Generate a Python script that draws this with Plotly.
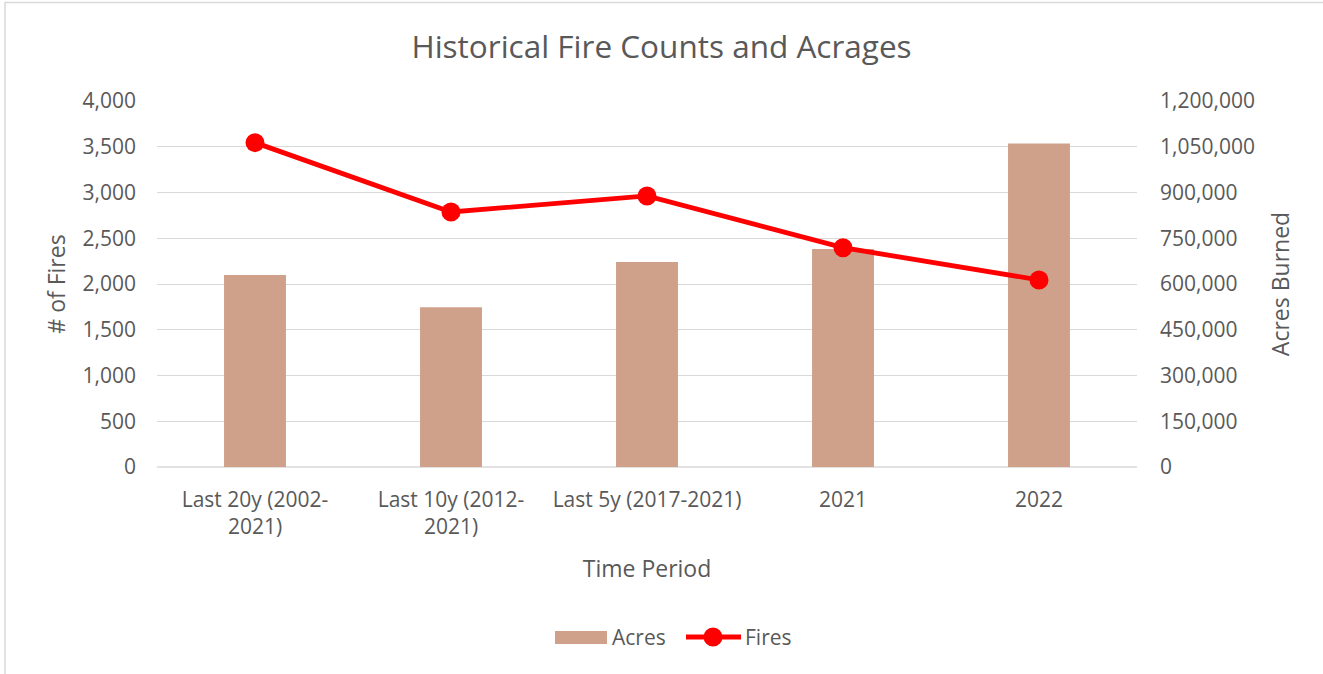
import plotly.graph_objects as go

categories = ["Last 20y (2002-<br>2021)", "Last 10y (2012-<br>2021)", "Last 5y (2017-2021)", "2021", "2022"]
acres = [629500, 523600, 672000, 714700, 1060500]
fires = [3545, 2787, 2962, 2397, 2044]
fire_ticks = [0, 500, 1000, 1500, 2000, 2500, 3000, 3500, 4000]
acre_ticks = [0, 150000, 300000, 450000, 600000, 750000, 900000, 1050000, 1200000]

FONT = "Open Sans"
GRAY = "#595959"
BAR = "#CFA18A"
RED = "#FF0000"
W, H = 1323, 674
L, R, T, B = 157, 1137, 101, 467

fig = go.Figure()
fig.add_trace(go.Bar(
    x=categories, y=acres, name="Acres", yaxis="y",
    marker=dict(color=BAR, line=dict(width=0)),
))
fig.add_trace(go.Scatter(
    x=categories, y=fires, name="Fires", yaxis="y2", mode="lines+markers",
    line=dict(color=RED, width=4.8),
    marker=dict(color=RED, size=19),
))

pw, ph = R - L, B - T
def px(x):
    return (x - L) / pw
def py(y):
    return (B - y) / ph

shapes = [
    dict(type="line", xref="paper", yref="paper", x0=0, x1=1, y0=0, y1=0,
         line=dict(color="#D9D9D9", width=1.3), layer="below"),
    dict(type="rect", xref="paper", yref="paper",
         x0=px(5), x1=px(1335), y0=py(690), y1=py(2.5),
         line=dict(color="#D9D9D9", width=1.5), layer="below"),
    # custom legend
    dict(type="rect", xref="paper", yref="paper",
         x0=px(555), x1=px(607), y0=py(644), y1=py(631),
         fillcolor=BAR, line=dict(width=0)),
    dict(type="line", xref="paper", yref="paper",
         x0=px(686), x1=px(741), y0=py(637), y1=py(637),
         line=dict(color=RED, width=4.8)),
    dict(type="circle", xref="paper", yref="paper",
         x0=px(703.5), x1=px(722.5), y0=py(646.5), y1=py(627.5),
         fillcolor=RED, line=dict(width=0)),
]
annotations = [
    dict(text="Acres", xref="paper", yref="paper", x=px(610), y=py(637),
         xanchor="left", yanchor="middle", showarrow=False,
         font=dict(size=21, color=GRAY, family=FONT)),
    dict(text="Fires", xref="paper", yref="paper", x=px(743), y=py(637),
         xanchor="left", yanchor="middle", showarrow=False,
         font=dict(size=21, color=GRAY, family=FONT)),
]

fig.update_layout(
    width=W, height=H,
    margin=dict(l=L, r=W - R, t=T, b=H - B, autoexpand=False),
    paper_bgcolor="white", plot_bgcolor="white",
    font=dict(family=FONT, color=GRAY, size=21),
    bargap=0.684,
    showlegend=False,
    title=dict(text="Historical Fire Counts and Acrages", x=0.5, xanchor="center",
               y=1 - 47 / H, yanchor="middle", font=dict(size=31.5, color=GRAY, family=FONT)),
    xaxis=dict(showgrid=False, showline=False, ticks="", tickfont=dict(size=21, color=GRAY),
               ticklabelstandoff=18,
               title=dict(text="Time Period", font=dict(size=23, color=GRAY), standoff=21)),
    yaxis=dict(side="right", range=[0, 1200000], tickvals=acre_ticks,
               ticktext=[f"{v:,}" for v in acre_ticks],
               showgrid=True, gridcolor="#D9D9D9", gridwidth=1.3, zeroline=False,
               ticks="", ticklabelstandoff=22, tickfont=dict(size=21, color=GRAY),
               title=dict(text="Acres Burned", font=dict(size=23, color=GRAY), standoff=18)),
    yaxis2=dict(side="left", overlaying="y", range=[0, 4000], tickvals=fire_ticks,
                ticktext=[f"{v:,}" for v in fire_ticks],
                showgrid=False, zeroline=False, ticks="", ticklabelstandoff=20,
                tickfont=dict(size=21, color=GRAY),
                title=dict(text="# of Fires", font=dict(size=23, color=GRAY), standoff=10)),
    shapes=shapes,
    annotations=annotations,
)

fig.write_html("out.html", config={"displayModeBar": False},
               post_script="document.body.style.margin='0';document.body.style.overflow='hidden';")
